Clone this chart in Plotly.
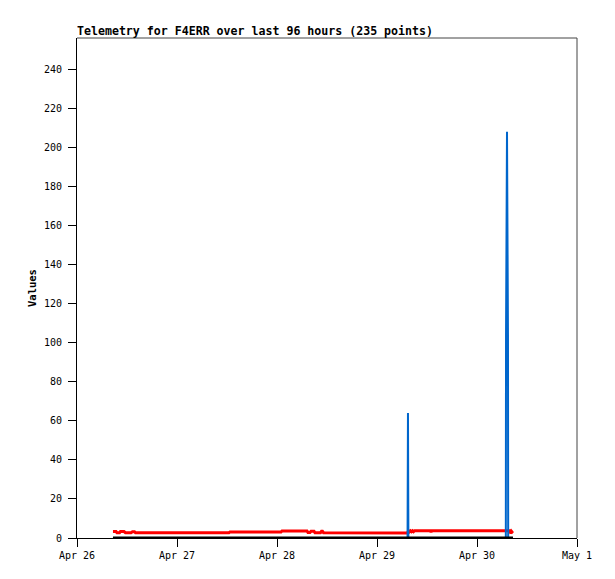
import plotly.graph_objects as go

# Red series (low-level telemetry value)
red_times = [
    "2024-04-26 08:38", "2024-04-26 09:22", "2024-04-26 09:36", "2024-04-26 10:12",
    "2024-04-26 10:26", "2024-04-26 11:17", "2024-04-26 11:38", "2024-04-26 12:58",
    "2024-04-26 13:19", "2024-04-26 13:48", "2024-04-26 14:02", "2024-04-27 12:29",
    "2024-04-27 12:43", "2024-04-28 00:58", "2024-04-28 01:12", "2024-04-28 07:12",
    "2024-04-28 07:26", "2024-04-28 07:55", "2024-04-28 08:10", "2024-04-28 08:53",
    "2024-04-28 09:07", "2024-04-28 10:26", "2024-04-28 10:41", "2024-04-28 10:55",
    "2024-04-28 11:10", "2024-04-29 07:19", "2024-04-29 07:34", "2024-04-29 07:48",
    "2024-04-29 08:02", "2024-04-29 08:17", "2024-04-29 08:31", "2024-04-29 08:46",
    "2024-04-29 09:00", "2024-04-29 12:50", "2024-04-29 12:58", "2024-04-29 13:05",
    "2024-04-30 07:41", "2024-04-30 07:55", "2024-04-30 08:10", "2024-04-30 08:24",
    "2024-04-30 08:38",
]
red_values = [
    3.3, 3.3, 2.7, 2.7,
    3.3, 3.3, 2.7, 2.7,
    3.2, 3.2, 2.7, 2.7,
    3.1, 3.1, 3.6, 3.6,
    2.8, 2.8, 3.4, 3.4,
    2.7, 2.7, 3.4, 3.4,
    2.7, 2.6, 3.7, 3.2,
    3.7, 3.2, 3.7, 3.2,
    3.7, 3.7, 2.9, 3.7,
    3.7, 3.1, 3.7, 3.1,
    3.6,
]

# Blue series (spiky telemetry value)
blue_times = [
    "2024-04-26 08:38", "2024-04-29 07:20", "2024-04-29 07:26", "2024-04-29 07:32",
    "2024-04-30 06:55", "2024-04-30 06:58", "2024-04-30 07:12", "2024-04-30 07:26",
    "2024-04-30 07:29", "2024-04-30 08:38",
]
blue_values = [0, 0, 64, 0, 0, 104, 208, 104, 0, 0]

# Black series (zero telemetry value)
black_times = ["2024-04-26 08:38", "2024-04-28 08:00", "2024-04-30 08:38"]
black_values = [0, 0, 0]

y_ticks = [0, 20, 40, 60, 80, 100, 120, 140, 160, 180, 200, 220, 240]
x_ticks = ["2024-04-26", "2024-04-27", "2024-04-28", "2024-04-29", "2024-04-30", "2024-05-01"]
x_tick_labels = ["Apr 26", "Apr 27", "Apr 28", "Apr 29", "Apr 30", "May 1"]

MONO = "DejaVu Sans Mono"
OFF = 8  # page body margin offset

fig = go.Figure()
fig.add_trace(go.Scatter(x=red_times, y=red_values, mode="lines",
                         line=dict(color="#ff0000", width=3), showlegend=False))
fig.add_trace(go.Scatter(x=blue_times, y=blue_values, mode="lines",
                         line=dict(color="#0066cc", width=2), showlegend=False))
fig.add_trace(go.Scatter(x=black_times, y=black_values, mode="lines",
                         line=dict(color="#000000", width=3), showlegend=False))

fig.update_layout(
    width=615, height=579,
    margin=dict(l=77 - OFF, r=38 + OFF, t=38 - OFF, b=41 + OFF),
    paper_bgcolor="white", plot_bgcolor="white",
    font=dict(family=MONO, size=10, color="black"),
    title=dict(text="<b>Telemetry for F4ERR over last 96 hours (235 points)</b>",
               x=(77 - OFF) / 615, xanchor="left", xref="container",
               y=1 - (31 - OFF) / 579, yanchor="middle", yref="container",
               font=dict(family=MONO, size=11.6, color="black")),
    xaxis=dict(type="date", range=["2024-04-26", "2024-05-01"],
               tickvals=x_ticks, ticktext=x_tick_labels,
               ticks="outside", ticklen=8, tickcolor="black", tickwidth=1,
               showline=True, linecolor="black", linewidth=1,
               showgrid=False, zeroline=False,
               tickfont=dict(family=MONO, size=10)),
    yaxis=dict(range=[0, 256], tickvals=y_ticks,
               ticks="outside", ticklen=8, tickcolor="black", tickwidth=1,
               showline=True, linecolor="black", linewidth=1,
               showgrid=False, zeroline=False, ticklabelstandoff=4,
               tickfont=dict(family=MONO, size=10)),
    shapes=[
        dict(type="line", xref="paper", yref="paper", x0=0, x1=1, y0=1, y1=1,
             line=dict(color="#444444", width=1)),
        dict(type="line", xref="paper", yref="paper", x0=1, x1=1, y0=0, y1=1,
             line=dict(color="#444444", width=1)),
    ],
    annotations=[
        dict(text="<b>Values</b>", xref="paper", yref="paper",
             x=(32 - 77) / 500, y=0.5, xanchor="center", yanchor="middle",
             textangle=-90, showarrow=False,
             font=dict(family=MONO, size=10.5, color="black")),
    ],
)

fig.write_html("out.html")
